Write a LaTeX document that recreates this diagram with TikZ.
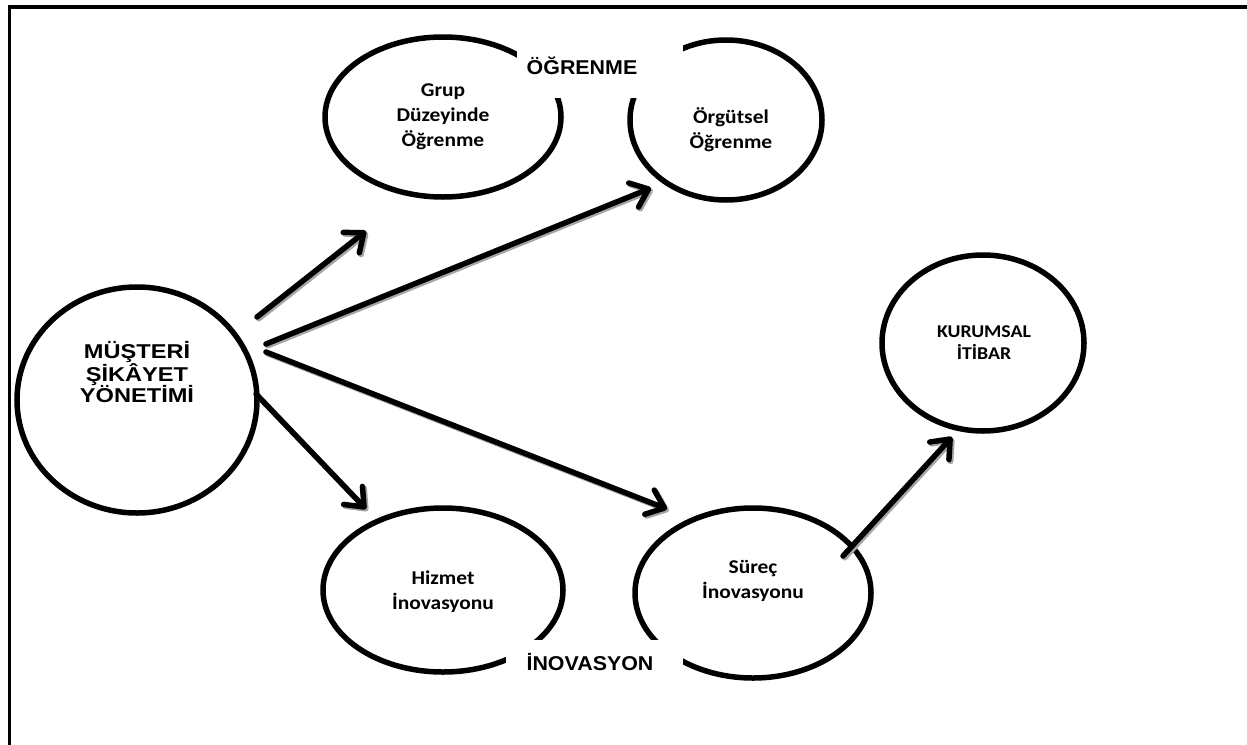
\documentclass[tikz,border=0pt]{standalone}
\usepackage{fontspec}
\usetikzlibrary{shapes.geometric,arrows.meta}
\newfontfamily\calf{Carlito}[FakeStretch=1.1]
\newfontfamily\arif{Liberation Sans}[FakeStretch=1.07]
\newfontfamily\arimf{Liberation Sans}[FakeStretch=1.18]
\tikzset{
  ell/.style={ellipse, draw, line width=5.5pt, inner sep=0pt},
  ctext/.style={font=\calf\bfseries\fontsize{19.5}{25}\selectfont, align=center, inner sep=0pt},
  ktext/.style={font=\calf\bfseries\fontsize{18}{22}\selectfont, align=center, inner sep=0pt},
  mtext/.style={font=\arimf\bfseries\fontsize{20}{21.5}\selectfont, align=center, inner sep=0pt},
  ltext/.style={font=\arif\bfseries\fontsize{20}{24}\selectfont, inner sep=0pt},
  whitebox/.style={fill=white, draw=none, inner sep=0pt, anchor=north west},
  frameline/.style={line width=3.5pt, line cap=rect},
  arr/.style={line width=5.5pt, line cap=round,
    -{Straight Barb[length=16pt,width=26pt,round]}},
  arrsh/.style={arr, draw=black!35, transform canvas={shift={(1.8,1.8)}}}
}
\begin{document}
\begin{tikzpicture}[x=1pt,y=-1pt]
\fill[white] (0,0) rectangle (1247,744);
\useasboundingbox (0,0) rectangle (1247,744);
% frame
\coordinate (fb) at (9.5,746);
\coordinate (fc) at (9.5,7);
\coordinate (fr) at (1249,7);
\draw[frameline] (fc) -- (fr);
\draw[frameline] (fc) -- (fb);

% ellipses
\node[ell, minimum width=240, minimum height=226] (musteri) at (137,400) {};
\node[ell, minimum width=236, minimum height=160] (grup) at (443,117) {};
\node[ell, minimum width=192, minimum height=160] (orgut) at (726,120) {};
\node[ell, minimum width=202, minimum height=176] (kurum) at (983,343) {};
\node[ell, minimum width=240, minimum height=164] (hizmet) at (443,590) {};
\node[ell, minimum width=236, minimum height=170] (surec) at (753,593) {};

% texts
\node[mtext] (musteriT) at (137,372) {MÜŞTERİ\\ŞİKÂYET\\YÖNETİMİ};
\node[ctext] (grupT) at (443,117) {Grup\\Düzeyinde\\Öğrenme};
\node[ctext] (orgutT) at (731,130) {Örgütsel\\Öğrenme};
\node[ktext] (kurumT) at (984,343) {KURUMSAL\\İTİBAR};
\node[ctext] (hizmetT) at (443,592) {Hizmet\\İnovasyonu};
\node[ctext] (surecT) at (753,581) {Süreç\\İnovasyonu};

% group labels
\node[whitebox, minimum width=166, minimum height=55] (ogbox) at (517,43) {};
\node[ltext] (ogrenme) at (582,66) {ÖĞRENME};
\node[whitebox, minimum width=177, minimum height=50] (inbox) at (506,640) {};
\node[ltext] (inovasyon) at (590,662) {İNOVASYON};

% arrow end points
\coordinate (a1s) at (257,317);
\coordinate (a1e) at (366,231);
\coordinate (a2s) at (266,344);
\coordinate (a2e) at (651,188);
\coordinate (a3s) at (266,352);
\coordinate (a3e) at (667,509);
\coordinate (a4s) at (256,394);
\coordinate (a4e) at (366,509);
\coordinate (a5s) at (843,556);
\coordinate (a5e) at (952,437);

% shadows
\draw[arrsh] (a1s) -- (a1e);
\draw[arrsh] (a2s) -- (a2e);
\draw[arrsh] (a3s) -- (a3e);
\draw[arrsh] (a4s) -- (a4e);
\draw[arrsh] (a5s) -- (a5e);
% arrows
\draw[arr] (a1s) -- (a1e);
\draw[arr] (a2s) -- (a2e);
\draw[arr] (a3s) -- (a3e);
\draw[arr] (a4s) -- (a4e);
\draw[arr] (a5s) -- (a5e);
\end{tikzpicture}
\end{document}
